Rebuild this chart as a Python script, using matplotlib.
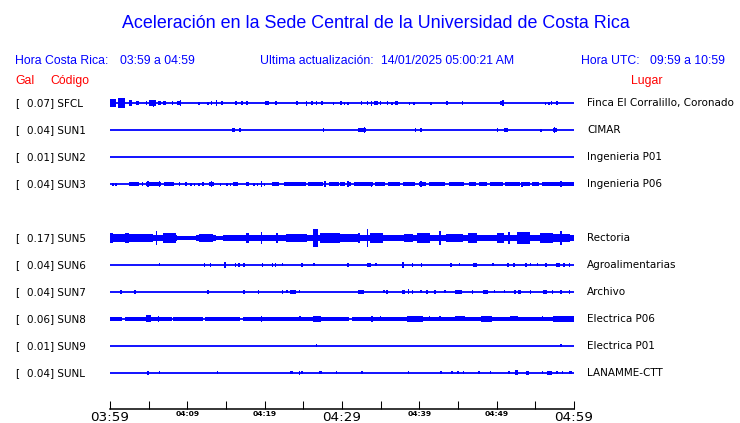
import matplotlib
matplotlib.use('Agg')
import matplotlib.pyplot as plt

W, H = 740, 423

# Station info
codes = ['SFCL', 'SUN1', 'SUN2', 'SUN3', 'SUN5', 'SUN6', 'SUN7', 'SUN8', 'SUN9', 'SUNL']
gal = [0.07, 0.04, 0.01, 0.04, 0.17, 0.04, 0.04, 0.06, 0.01, 0.04]
places = ['Finca El Corralillo, Coronado', 'CIMAR', 'Ingenieria P01', 'Ingenieria P06',
          'Rectoria', 'Agroalimentarias', 'Archivo', 'Electrica P06', 'Electrica P01', 'LANAMME-CTT']
slots = [0, 1, 2, 3, 5, 6, 7, 8, 9, 10]   # SUN4 row is empty

tick_minutes = [0, 5, 10, 15, 20, 25, 30, 35, 40, 45, 50, 55, 60]
tick_labels = ['03:59', '', '04:09', '', '04:19', '', '04:29', '', '04:39', '', '04:49', '', '04:59']
big_ticks = ['03:59', '04:29', '04:59']

# Amplitude envelopes: (start minute, end minute, half height)
env_sfcl = [(0.0, 0.8, 3.3), (1.0, 2.0, 4.3), (2.5, 2.8, 2.5), (3.4, 3.8, 2.0), (4.6, 4.6, 1.5),
            (5.0, 6.0, 2.5), (5.5, 5.5, 3.2), (6.2, 6.6, 2.0), (6.9, 7.2, 1.6), (8.0, 8.0, 1.7),
            (8.6, 9.2, 1.6), (9.0, 9.0, 2.7), (11.4, 11.4, 1.3), (12.6, 12.6, 1.3), (13.0, 13.0, 1.5),
            (13.7, 13.7, 2.7), (14.4, 14.4, 1.5), (16.1, 16.4, 1.7), (17.0, 17.0, 1.5), (17.6, 17.8, 1.7),
            (20.0, 20.6, 1.7), (21.4, 21.4, 1.5), (24.0, 24.3, 1.7), (25.3, 25.3, 2.2), (26.0, 26.2, 1.7),
            (26.6, 26.6, 1.5), (27.3, 27.3, 1.5), (28.8, 28.8, 1.3), (29.8, 29.8, 1.7),
            (30.2, 30.2, 1.3), (30.7, 30.7, 1.3), (32.4, 32.4, 1.5), (33.2, 33.2, 1.5), (33.7, 33.7, 2.2),
            (34.1, 34.6, 1.7), (34.9, 35.1, 1.5), (35.8, 35.8, 1.5), (36.4, 36.4, 1.3), (36.9, 37.2, 1.7),
            (38.6, 38.6, 1.3), (39.2, 39.2, 1.3), (41.4, 41.4, 1.3), (43.5, 43.6, 1.7), (45.5, 45.6, 1.7),
            (50.4, 51.0, 1.7), (50.7, 50.7, 2.7), (56.2, 56.2, 1.3), (56.7, 56.7, 1.3), (57.0, 57.0, 1.5),
            (57.7, 57.7, 1.5)]
env_sun1 = [(15.8, 16.1, 1.7), (16.7, 16.7, 1.5), (27.5, 27.5, 1.7), (32.1, 33.1, 1.7), (32.8, 32.8, 2.7),
            (39.4, 39.6, 1.7), (40.1, 40.1, 1.5), (50.0, 50.0, 1.5), (51.0, 51.5, 1.7), (55.6, 55.6, 1.3),
            (57.3, 57.8, 2.0), (57.4, 57.4, 2.7)]
env_sun2 = []
env_sun3 = [(0.3, 0.3, 1.3), (0.7, 0.7, 1.3), (2.5, 3.8, 1.7), (4.1, 4.1, 1.5), (4.6, 6.6, 1.7),
            (4.8, 4.8, 2.7), (6.3, 6.3, 2.7), (7.0, 8.3, 1.4), (8.9, 8.9, 1.5), (9.7, 10.0, 1.5),
            (10.4, 10.4, 1.3), (10.8, 11.0, 1.3), (11.4, 11.4, 1.3), (11.9, 12.0, 1.5), (12.8, 13.4, 1.7),
            (13.0, 13.0, 2.7), (14.2, 14.2, 1.3), (15.0, 15.0, 1.3), (15.5, 15.5, 1.3), (15.9, 16.5, 1.7),
            (17.6, 18.0, 1.7), (18.5, 18.5, 1.3), (19.0, 19.0, 1.3), (19.5, 19.5, 2.7), (19.9, 19.9, 1.3),
            (21.0, 21.9, 1.7), (22.5, 25.3, 1.7), (25.6, 27.5, 1.7), (27.7, 27.7, 2.7), (28.3, 29.6, 1.7),
            (29.7, 30.4, 1.7), (30.6, 31.2, 1.7), (30.7, 30.7, 2.7), (31.5, 34.0, 1.7), (33.7, 33.7, 2.2),
            (34.3, 35.5, 1.7), (35.9, 37.5, 1.7), (37.9, 39.5, 1.7), (40.0, 40.8, 1.7), (40.1, 40.1, 2.7),
            (41.2, 43.3, 1.7), (43.8, 45.8, 1.7), (46.4, 47.3, 1.7), (47.7, 48.7, 1.7), (49.2, 50.8, 1.7),
            (51.1, 53.0, 1.7), (53.2, 53.2, 2.2), (53.4, 54.3, 1.7), (54.6, 55.5, 1.7), (55.9, 60.0, 1.7),
            (58.2, 58.2, 2.7)]
env_sun5 = [(0.0, 8.7, 2.7), (8.7, 11.1, 1.8), (11.1, 13.7, 2.7), (13.7, 14.6, 1.8), (14.6, 60.0, 2.7),
            (0.0, 0.4, 4.7), (0.4, 2.0, 3.2), (2.0, 2.5, 4.0), (2.5, 5.5, 3.2), (5.9, 5.9, 6.3),
            (6.8, 8.5, 4.0), (11.5, 13.3, 3.7), (15.0, 17.0, 3.0), (17.6, 18.0, 4.0), (18.4, 19.3, 3.0),
            (19.5, 19.5, 5.5), (20.2, 21.0, 3.0), (21.5, 21.5, 4.0), (22.8, 25.5, 3.5), (26.2, 26.9, 8.0),
            (27.1, 29.7, 4.0), (29.7, 32.3, 3.5), (32.1, 32.1, 4.5), (33.2, 33.2, 7.5), (33.6, 35.3, 4.5),
            (36.2, 37.5, 3.0), (38.0, 39.2, 3.5), (39.7, 41.4, 4.5), (42.6, 42.6, 6.0), (43.5, 45.7, 3.5),
            (46.3, 47.4, 4.0), (47.8, 49.1, 3.0), (50.0, 50.9, 4.0), (51.5, 51.5, 5.0), (52.6, 54.3, 5.0),
            (55.6, 57.3, 4.0), (57.3, 59.5, 3.2), (58.2, 58.2, 6.0)]
env_sun6 = [(6.3, 6.3, 1.3), (12.1, 12.1, 1.7), (12.9, 12.9, 1.5), (14.8, 14.8, 2.7), (16.1, 16.3, 1.7),
            (16.6, 16.6, 1.5), (17.2, 17.2, 1.5), (19.6, 19.6, 1.5), (20.9, 20.9, 1.5), (21.3, 21.5, 1.5),
            (22.2, 22.2, 1.3), (24.7, 24.9, 1.7), (26.3, 26.3, 1.3), (30.7, 30.7, 1.5), (33.2, 33.8, 1.7),
            (34.3, 34.3, 1.3), (37.8, 37.8, 2.7), (39.0, 39.0, 1.5), (40.2, 40.2, 1.5), (44.0, 44.0, 1.5),
            (45.1, 45.1, 1.3), (47.0, 47.4, 1.7), (49.4, 49.4, 1.3), (51.3, 51.6, 1.7), (52.1, 52.4, 1.7),
            (53.7, 53.7, 1.5), (54.3, 54.3, 1.3), (55.2, 55.2, 1.3), (56.2, 56.5, 1.5), (57.7, 58.2, 1.7),
            (58.6, 58.6, 1.5), (59.3, 59.3, 1.5)]
env_sun7 = [(1.3, 1.3, 1.7), (3.1, 3.1, 1.7), (12.6, 12.6, 1.5), (17.2, 17.2, 1.5), (19.1, 19.1, 1.5),
            (22.2, 22.2, 1.7), (22.8, 22.8, 1.3), (23.3, 24.1, 1.7), (24.4, 24.4, 1.3), (32.1, 32.8, 1.7),
            (35.3, 35.3, 1.3), (35.7, 35.7, 1.5), (37.7, 38.1, 1.5), (38.5, 38.5, 2.2), (39.0, 39.0, 1.5),
            (40.1, 40.1, 1.3), (40.9, 40.9, 1.5), (41.9, 42.0, 1.7), (43.2, 43.2, 1.3), (44.6, 45.5, 1.7),
            (46.8, 46.8, 1.5), (48.2, 48.9, 1.7), (49.6, 49.6, 1.3), (50.9, 50.9, 1.3), (52.3, 52.3, 1.5),
            (52.8, 53.2, 1.7), (54.3, 54.3, 1.5), (56.0, 56.5, 1.7), (57.1, 57.1, 1.5), (58.2, 58.2, 1.5),
            (59.3, 59.3, 1.5)]
env_sun8 = [(0.0, 1.6, 1.5), (1.9, 8.0, 1.8), (8.2, 12.0, 1.8), (12.3, 16.8, 1.8), (17.2, 30.9, 1.8),
            (31.3, 60.0, 1.8), (4.7, 5.3, 3.0), (6.2, 6.2, 2.5), (19.5, 19.5, 2.5), (24.5, 24.5, 2.2),
            (26.2, 27.3, 2.5), (33.8, 33.8, 2.5), (34.9, 34.9, 2.2), (38.4, 40.5, 2.5), (41.2, 41.2, 2.2),
            (42.6, 42.6, 2.2), (44.6, 45.9, 2.3), (48.0, 49.4, 2.5), (51.7, 52.8, 2.3), (55.8, 55.8, 2.2),
            (57.3, 60.0, 2.7)]
env_sun9 = [(26.6, 26.6, 1.3), (58.2, 58.2, 1.3)]
env_sunl = [(4.8, 4.8, 1.7), (6.3, 6.3, 1.3), (13.8, 13.8, 1.3), (23.3, 23.6, 1.3), (24.4, 24.4, 1.7),
            (24.7, 24.7, 1.5), (27.0, 27.4, 1.5), (29.2, 29.2, 1.5), (32.5, 32.5, 1.3), (38.5, 38.5, 1.3),
            (42.7, 42.7, 1.3), (44.1, 44.1, 1.5), (44.9, 45.0, 1.5), (45.6, 45.6, 1.5), (47.6, 47.6, 1.3),
            (49.1, 49.1, 1.5), (51.5, 51.7, 1.5), (52.4, 52.8, 2.2), (53.8, 54.2, 1.7), (55.8, 55.8, 1.5),
            (56.5, 57.1, 1.7), (57.7, 57.7, 1.5), (58.4, 58.4, 1.5), (59.3, 59.7, 1.5)]

envelopes = [env_sfcl, env_sun1, env_sun2, env_sun3, env_sun5,
             env_sun6, env_sun7, env_sun8, env_sun9, env_sunl]

BLUE = '#0000ff'
RED = '#ff0000'
HEAD = 'Liberation Sans'
BODY = 'DejaVu Sans'


def px(x, y):
    return x / W, 1 - y / H


fig = plt.figure(figsize=(W / 100, H / 100), dpi=100)

# trace panel, y data in pixel rows (top = 90, bottom axis line = 409)
ax = fig.add_axes([110 / W, 1 - 409 / H, 464 / W, (409 - 90) / H])
ax.set_xlim(0, 60)
ax.set_ylim(409, 90)

row0, step = 103.2, 26.95
for i, env in enumerate(envelopes):
    y = row0 + step * slots[i]
    ax.hlines(y, 0, 60, color=BLUE, lw=1.3)
    for t0, t1, a in env:
        ax.bar(t0, 2 * a * 1.15, width=max(t1 - t0, 0.2), bottom=y - a * 1.15, align='edge',
               color=BLUE, linewidth=0)

    fig.text(*px(15, y), '[', ha='left', va='center', fontsize=7.5, family=BODY)
    fig.text(*px(27, y), '%.2f] %s' % (gal[i], codes[i]), ha='left', va='center',
             fontsize=7.5, family=BODY)
    fig.text(*px(587, y), places[i], ha='left', va='center', fontsize=7.5, family=BODY)

for s in ['top', 'left', 'right']:
    ax.spines[s].set_visible(False)
ax.spines['bottom'].set_linewidth(1.1)
ax.set_yticks([])
ax.set_xticks(tick_minutes)
ax.set_xticklabels(tick_labels)
ax.tick_params(axis='x', direction='in', length=5.8, width=0.75, pad=1.2)
for lbl in ax.get_xticklabels():
    if lbl.get_text() in big_ticks:
        lbl.set_fontsize(9.7)
        lbl.set_family(BODY)
    else:
        lbl.set_fontsize(5.4)
        lbl.set_fontweight('bold')
        lbl.set_family(BODY)

# headers
fig.text(*px(376, 23), 'Aceleración en la Sede Central de la Universidad de Costa Rica',
         ha='center', va='center', fontsize=12.9, family=HEAD, color=BLUE)
fig.text(*px(15, 61), 'Hora Costa Rica:', ha='left', va='center', fontsize=8.8, family=HEAD, color=BLUE)
fig.text(*px(120, 61), '03:59 a 04:59', ha='left', va='center', fontsize=8.8, family=HEAD, color=BLUE)
fig.text(*px(260, 61), 'Ultima actualización:', ha='left', va='center', fontsize=8.8, family=HEAD, color=BLUE)
fig.text(*px(381, 61), '14/01/2025 05:00:21 AM', ha='left', va='center', fontsize=8.8, family=HEAD, color=BLUE)
fig.text(*px(580.7, 61), 'Hora UTC:', ha='left', va='center', fontsize=8.8, family=HEAD, color=BLUE)
fig.text(*px(650, 61), '09:59 a 10:59', ha='left', va='center', fontsize=8.8, family=HEAD, color=BLUE)
fig.text(*px(15, 81), 'Gal', ha='left', va='center', fontsize=8.8, family=HEAD, color=RED)
fig.text(*px(50, 81), 'Código', ha='left', va='center', fontsize=8.8, family=HEAD, color=RED)
fig.text(*px(630.7, 81), 'Lugar', ha='left', va='center', fontsize=8.8, family=HEAD, color=RED)

fig.savefig('out.png', dpi=100)
